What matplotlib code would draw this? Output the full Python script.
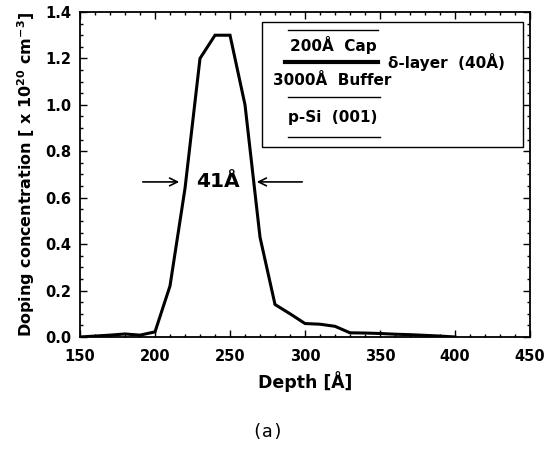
import matplotlib

matplotlib.use("Agg")
import matplotlib.pyplot as plt
from matplotlib.ticker import MultipleLocator, FormatStrFormatter
from matplotlib.lines import Line2D
from matplotlib.patches import Rectangle


DEPTH = [150, 160, 170, 180, 190, 200, 210, 220, 230, 240, 250, 260, 270,
         280, 290, 300, 310, 320, 330, 340, 350, 360, 370, 380, 390, 400]
DOPING = [0.0, 0.004, 0.008, 0.013, 0.008, 0.022, 0.22, 0.64, 1.20, 1.30,
          1.30, 1.00, 0.43, 0.14, 0.10, 0.058, 0.055, 0.046, 0.018, 0.017,
          0.015, 0.012, 0.010, 0.007, 0.004, 0.0]

FWHM_LABEL = "41Å"
FWHM_Y = 0.668

plt.rcParams["font.family"] = ["DejaVu Sans"]
plt.rcParams["mathtext.fontset"] = "dejavusans"


def main() -> None:
    fig = plt.figure(figsize=(5.45, 4.53), dpi=100)
    fig.patch.set_facecolor("white")
    ax = fig.add_axes([0.1468, 0.2561, 0.8257, 0.7174])

    ax.plot(DEPTH, DOPING, color="black", linewidth=2.2, solid_joinstyle="miter")

    ax.set_xlim(150, 450)
    ax.set_ylim(0.0, 1.4)
    ax.xaxis.set_major_locator(MultipleLocator(50))
    ax.xaxis.set_minor_locator(MultipleLocator(10))
    ax.yaxis.set_major_locator(MultipleLocator(0.2))
    ax.yaxis.set_minor_locator(MultipleLocator(0.05))
    ax.yaxis.set_major_formatter(FormatStrFormatter("%.1f"))
    ax.tick_params(which="both", direction="in", top=True, right=True,
                   labelsize=10.5, width=1.0)
    ax.tick_params(which="major", length=5)
    ax.tick_params(which="minor", length=2.5)
    ax.tick_params(axis="x", which="major", pad=9)
    ax.tick_params(axis="y", which="major", pad=6)
    for lab in ax.get_xticklabels() + ax.get_yticklabels():
        lab.set_fontweight("bold")
    for spine in ax.spines.values():
        spine.set_linewidth(1.3)

    ax.set_xlabel("Depth [Å]", fontsize=12.5, fontweight="bold", labelpad=5)
    ax.set_ylabel(r"Doping concentration [ x 10$^{\mathbf{20}}$ cm$^{\mathbf{-3}}$]",
                  fontsize=11.5, fontweight="bold", labelpad=6)

    # FWHM arrows
    ax.annotate("", xy=(218, FWHM_Y), xytext=(190, FWHM_Y),
                arrowprops=dict(arrowstyle="->", color="black", lw=1.2,
                                mutation_scale=14))
    ax.annotate("", xy=(266, FWHM_Y), xytext=(300, FWHM_Y),
                arrowprops=dict(arrowstyle="->", color="black", lw=1.2,
                                mutation_scale=14))
    ax.text(242, FWHM_Y, FWHM_LABEL, fontsize=14.5, fontweight="bold",
            ha="center", va="center")

    # layer structure inset
    tr = ax.transAxes
    ax.add_patch(Rectangle((0.404, 0.585), 0.580, 0.384, transform=tr,
                           fill=False, edgecolor="black", linewidth=1.0))
    for y, x0, x1, lw in [(0.945, 0.462, 0.662, 1.0),
                          (0.847, 0.456, 0.662, 3.0),
                          (0.738, 0.462, 0.667, 1.0),
                          (0.615, 0.462, 0.667, 1.0)]:
        ax.add_line(Line2D([x0, x1], [y, y], transform=tr, color="black",
                           linewidth=lw))
    ax.text(0.562, 0.898, "200Å  Cap", transform=tr, fontsize=11,
            fontweight="bold", ha="center", va="center")
    ax.text(0.684, 0.847, "δ-layer  (40Å)", transform=tr, fontsize=11,
            fontweight="bold", ha="left", va="center")
    ax.text(0.429, 0.788, "3000Å  Buffer", transform=tr, fontsize=11,
            fontweight="bold", ha="left", va="center")
    ax.text(0.562, 0.674, "p-Si  (001)", transform=tr, fontsize=11,
            fontweight="bold", ha="center", va="center")

    fig.text(0.491, 0.046, "(a)", fontsize=13, ha="center", va="center",
             family=["DejaVu Sans Mono", "DejaVu Sans"])

    fig.savefig("out.png", dpi=100)
    plt.close(fig)


if __name__ == "__main__":
    main()
